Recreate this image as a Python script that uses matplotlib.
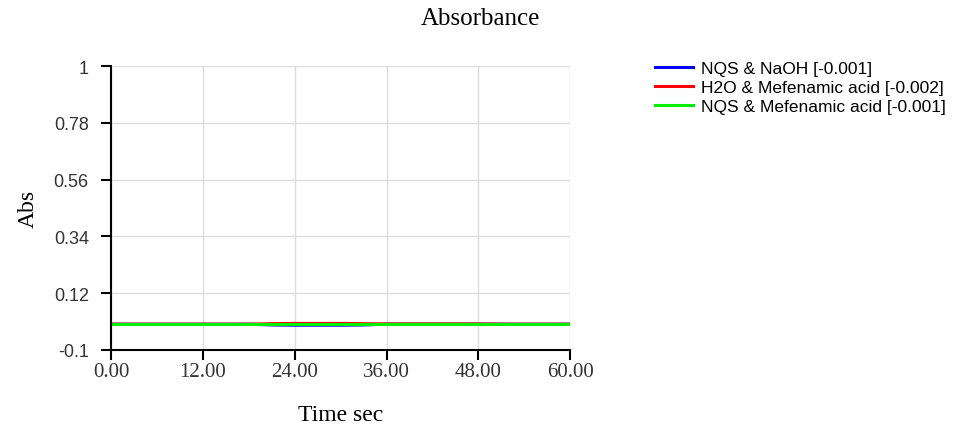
import numpy as np
import matplotlib.pyplot as plt

# time points (sec) and absorbance readings
time_sec = [0, 3, 6, 9, 12, 15, 18, 21, 24, 27, 30, 33, 36, 39, 42, 45, 48, 51, 54, 57, 60]
nqs_naoh = [0.0, 0.0, 0.0, 0.0, 0.0, 0.0, 0.0, -0.003, -0.004, -0.004, -0.004, -0.003,
            0.0, 0.0, 0.0, 0.0, 0.0, 0.0, 0.0, 0.0, 0.0]
h2o_mef = [0.0, 0.0, 0.0, 0.0, 0.0, 0.0, 0.0, 0.002, 0.003, 0.003, 0.003, 0.002,
           0.001, 0.001, 0.001, 0.001, 0.001, 0.0, 0.0, 0.0, 0.0]
nqs_mef = [0.0] * 21

labels = ["NQS & NaOH [-0.001]", "H2O & Mefenamic acid [-0.002]", "NQS & Mefenamic acid [-0.001]"]
colors = ["#0000ff", "#ff0000", "#00ee00"]
y_ticks = [-0.1, 0.12, 0.34, 0.56, 0.78, 1]
x_ticks = [0, 12, 24, 36, 48, 60]

fig = plt.figure(figsize=(9.61, 4.27), dpi=100)
ax = fig.add_axes([0.1155, 0.178, 0.478, 0.665])

for ys, lab, c in zip([nqs_naoh, h2o_mef, nqs_mef], labels, colors):
    ax.plot(time_sec, ys, color=c, lw=2.2, label=lab)

ax.set_xlim(0, 60)
ax.set_ylim(-0.1, 1)
ax.set_xticks(x_ticks)
ax.set_xticklabels(["%.2f" % t for t in x_ticks], fontfamily="Liberation Serif", fontsize=15)
ax.set_yticks(y_ticks)
ax.set_yticklabels([("%g" % v) for v in y_ticks], fontfamily="Liberation Sans", fontsize=13)
ax.grid(True, color="#dddddd", lw=1)
ax.spines["top"].set_visible(False)
ax.spines["right"].set_visible(False)
for s in ["left", "bottom"]:
    ax.spines[s].set_linewidth(1.5)
ax.tick_params(direction="out", length=7, width=1.5, colors="black")
ax.tick_params(axis="x", pad=2)
ax.tick_params(axis="y", pad=9)
for lab in ax.get_xticklabels() + ax.get_yticklabels():
    lab.set_color("#333333")

ax.set_xlabel("Time sec", fontfamily="Liberation Serif", fontsize=17, labelpad=16)
ax.set_ylabel("Abs", fontfamily="Liberation Serif", fontsize=17, labelpad=11)
fig.text(0.5, 0.955, "Absorbance", ha="center", va="center",
         fontfamily="Liberation Serif", fontsize=18)

fig.legend(loc="upper left", bbox_to_anchor=(655 / 961, 1 - 62 / 427), frameon=False,
           prop={"family": "Liberation Sans", "size": 12.5}, handlelength=2.2,
           labelspacing=0.22, handletextpad=0.45, borderpad=0, borderaxespad=0)

fig.savefig("out.png", dpi=100)
